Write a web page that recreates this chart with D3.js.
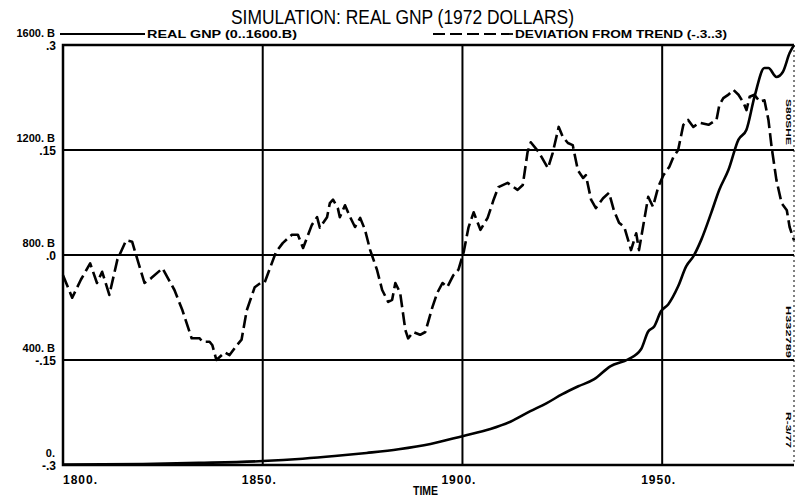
<!DOCTYPE html>
<html><head><meta charset="utf-8">
<script src="https://cdn.jsdelivr.net/npm/d3@7"></script>
<style>
html,body{margin:0;padding:0;background:#fff;}
svg{display:block;}
text{font-family:"Liberation Sans","DejaVu Sans",sans-serif;fill:#000;}
</style></head>
<body>
<script>
// ---- data ----
const title = "SIMULATION: REAL GNP (1972 DOLLARS)";
const xTicks = [1800, 1850, 1900, 1950];
const xTickLabels = ["1800.", "1850.", "1900.", "1950."];
const devTicks = [0.3, 0.15, 0, -0.15, -0.3];
const devTickLabels = [".3", ".15", ".0", "-.15", "-.3"];
const gnpTicks = [1600.8, 1200.6, 800.4, 400.2, 0];
const gnpTickLabels = ["1600. B", "1200. B", "800. B", "400. B", "0."];
const legendLabels = ["REAL GNP (0..1600.B)", "DEVIATION FROM TREND (-.3..3)"];
const sideCodes = ["S80SHE", "H332789", "R-3/77"];

const devYears = [1800.0,1802.3,1804.5,1806.8,1808.5,1809.8,1811.6,1813.6,1815.8,1817.3,1820.4,1822.1,1824.9,1827.9,1829.9,1832.2,1834.2,1834.9,1836.7,1837.4,1838.4,1840.5,1841.7,1843.5,1844.7,1846.0,1848.0,1849.7,1850.5,1853.3,1855.0,1857.3,1858.8,1860.1,1862.3,1863.6,1864.3,1866.1,1866.8,1867.6,1868.8,1869.3,1870.6,1871.9,1873.1,1874.4,1875.6,1876.9,1878.6,1879.9,1881.4,1882.4,1883.2,1884.4,1885.7,1886.4,1887.7,1889.4,1890.7,1892.5,1893.7,1895.0,1896.2,1897.7,1899.0,1900.3,1901.5,1902.8,1904.5,1906.3,1907.8,1909.0,1911.3,1913.8,1915.1,1916.3,1917.1,1919.1,1921.4,1922.6,1924.1,1925.1,1926.4,1927.6,1928.9,1930.2,1930.9,1932.2,1933.4,1935.2,1936.7,1937.9,1939.2,1940.5,1941.5,1942.2,1943.5,1944.2,1945.5,1946.5,1947.7,1949.0,1950.3,1951.8,1952.8,1954.0,1955.3,1956.5,1957.8,1959.3,1961.6,1963.6,1964.3,1965.3,1966.6,1967.8,1969.1,1970.4,1971.1,1971.9,1973.1,1974.4,1975.6,1976.6,1977.4,1978.6,1979.9,1981.2,1981.9,1983.0];
const devValues = [-0.029,-0.061,-0.035,-0.012,-0.040,-0.024,-0.057,-0.007,0.021,0.019,-0.040,-0.033,-0.019,-0.050,-0.079,-0.119,-0.119,-0.124,-0.124,-0.129,-0.150,-0.139,-0.143,-0.129,-0.121,-0.079,-0.046,-0.039,-0.039,0.004,0.017,0.029,0.029,0.010,0.043,0.054,0.039,0.054,0.074,0.079,0.067,0.054,0.071,0.054,0.040,0.053,0.036,0.007,-0.021,-0.050,-0.067,-0.064,-0.040,-0.054,-0.107,-0.119,-0.110,-0.114,-0.110,-0.074,-0.054,-0.040,-0.046,-0.029,-0.021,0.004,0.039,0.061,0.036,0.053,0.079,0.097,0.103,0.093,0.100,0.147,0.161,0.147,0.124,0.146,0.183,0.169,0.160,0.157,0.121,0.110,0.114,0.079,0.067,0.081,0.089,0.064,0.046,0.040,0.021,0.007,0.031,0.007,0.050,0.083,0.069,0.097,0.114,0.126,0.140,0.150,0.186,0.193,0.183,0.189,0.186,0.193,0.214,0.224,0.229,0.236,0.229,0.217,0.207,0.226,0.229,0.219,0.221,0.193,0.154,0.107,0.074,0.064,0.040,0.021];

const gnpYears = [1800,1820,1834,1850,1860,1868,1876,1884,1892,1900,1907,1912,1917,1921,1925,1929,1933,1937,1941.5,1944.7,1946.5,1948,1949.7,1951.5,1954,1956,1957.8,1959.8,1962.3,1964.3,1966.6,1969.1,1971.1,1973.1,1975.6,1976.6,1978.6,1980.2,1981.9,1983];
const gnpValues = [2,4,8,15,24,34,46,60,80,110,137,165,205,235,270,300,327,376,403,441,509,528,586,612,681,757,795,859,962,1049,1125,1240,1278,1403,1513,1513,1479,1498,1570,1600];

// ---- layout ----
const W = 795, H = 503;
const svg = d3.select("body").append("svg").attr("width", W).attr("height", H);
const x = d3.scaleLinear().domain([1800, 1983]).range([63, 794]);
const yDev = d3.scaleLinear().domain([-0.3, 0.3]).range([465, 45]);
const yGnp = d3.scaleLinear().domain([0, 1600.8]).range([465, 45]);

// grid lines
svg.append("g").selectAll("line").data(devTicks.slice(1, 4)).join("line")
  .attr("x1", x(1800)).attr("x2", x(1983)).attr("y1", d => yDev(d)).attr("y2", d => yDev(d))
  .attr("stroke", "#000").attr("stroke-width", 2);
svg.append("g").selectAll("line").data(xTicks.slice(1)).join("line")
  .attr("x1", d => x(d)).attr("x2", d => x(d)).attr("y1", yDev(0.3)).attr("y2", yDev(-0.3))
  .attr("stroke", "#000").attr("stroke-width", 2);

// frame
svg.append("path")
  .attr("d", `M${x(1983)},${yDev(0.3)}H${x(1800)}V${yDev(-0.3)}H${x(1983)}`)
  .attr("fill", "none").attr("stroke", "#000").attr("stroke-width", 2.5);
svg.append("line").attr("x1", x(1983)).attr("x2", x(1983)).attr("y1", yDev(0.3)).attr("y2", yDev(-0.3))
  .attr("stroke", "#000").attr("stroke-width", 1).attr("stroke-dasharray", "2,3");

// series
const devLine = d3.line().x((d, i) => x(devYears[i])).y(d => yDev(d)).curve(d3.curveLinear);
svg.append("path").datum(devValues).attr("d", devLine)
  .attr("fill", "none").attr("stroke", "#000").attr("stroke-width", 2.6)
  .attr("stroke-dasharray", "13,5").attr("stroke-linejoin", "round");
const gnpLine = d3.line().x((d, i) => x(gnpYears[i])).y(d => yGnp(d)).curve(d3.curveMonotoneX);
svg.append("path").datum(gnpValues).attr("d", gnpLine)
  .attr("fill", "none").attr("stroke", "#000").attr("stroke-width", 2.6).attr("stroke-linejoin", "round");

// y labels
svg.append("g").selectAll("text").data(gnpTicks).join("text")
  .attr("x", 55).attr("y", d => yGnp(d) - 8).attr("text-anchor", "end")
  .attr("font-size", 11).attr("font-weight", "bold")
  .text((d, i) => gnpTickLabels[i]);
svg.append("g").selectAll("text").data(devTicks).join("text")
  .attr("x", 56).attr("y", d => yDev(d) + 5).attr("text-anchor", "end")
  .attr("font-size", 12).attr("font-weight", "bold")
  .text((d, i) => devTickLabels[i]);

// x labels
svg.append("g").selectAll("text").data(xTicks).join("text")
  .attr("x", (d, i) => i === 0 ? x(d) : x(d) - 21).attr("y", 484)
  .attr("font-size", 12).attr("font-weight", "bold").attr("textLength", 34)
  .text((d, i) => xTickLabels[i]);
svg.append("text").attr("x", 413).attr("y", 495).attr("font-size", 12).attr("font-weight", "bold")
  .attr("textLength", 25).attr("lengthAdjust", "spacingAndGlyphs").text("TIME");

// title
svg.append("text").attr("x", 231).attr("y", 24).attr("font-size", 20)
  .attr("textLength", 343).attr("lengthAdjust", "spacingAndGlyphs").text(title);

// legend
svg.append("line").attr("x1", 60).attr("x2", 145).attr("y1", 34).attr("y2", 34)
  .attr("stroke", "#000").attr("stroke-width", 1.8);
svg.append("text").attr("x", 147).attr("y", 38).attr("font-size", 10).attr("font-weight", "bold")
  .attr("textLength", 150).attr("lengthAdjust", "spacingAndGlyphs").text(legendLabels[0]);
svg.append("line").attr("x1", 433).attr("x2", 513).attr("y1", 34).attr("y2", 34)
  .attr("stroke", "#000").attr("stroke-width", 1.8).attr("stroke-dasharray", "12,5");
svg.append("text").attr("x", 515).attr("y", 38).attr("font-size", 10).attr("font-weight", "bold")
  .attr("textLength", 212).attr("lengthAdjust", "spacingAndGlyphs").text(legendLabels[1]);

// side codes
const sidePos = [[yDev(0.19), 46], [yDev(-0.11), 52], [yDev(-0.25), 36]];
svg.append("g").selectAll("text").data(sideCodes).join("text")
  .attr("transform", (d, i) => `translate(786,${sidePos[i][0]}) rotate(90)`)
  .attr("font-size", 7).attr("font-weight", "bold").attr("text-anchor", "middle")
  .attr("textLength", (d, i) => sidePos[i][1]).attr("lengthAdjust", "spacingAndGlyphs")
  .text(d => d);
</script>
</body></html>
